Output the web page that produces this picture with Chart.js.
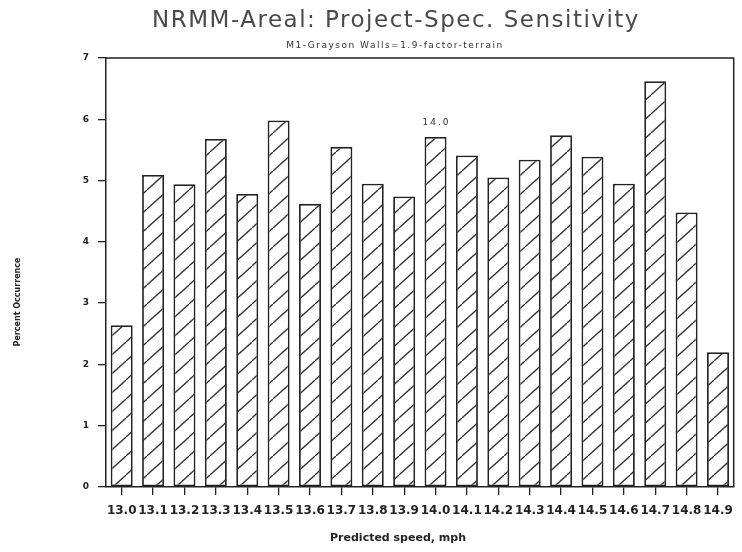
<!DOCTYPE html>
<html>
<head>
<meta charset="utf-8">
<script src="https://cdn.jsdelivr.net/npm/chart.js@4.4.1/dist/chart.umd.min.js"></script>
<style>
    html, body { margin: 0; padding: 0; background: #fff; }
    #wrap { width: 742px; height: 552px; }
</style>
</head>
<body>
<div id="wrap"><canvas id="speedChart"></canvas></div>
<script>
// data
const speedLabels = ['13.0', '13.1', '13.2', '13.3', '13.4', '13.5', '13.6', '13.7', '13.8', '13.9',
                     '14.0', '14.1', '14.2', '14.3', '14.4', '14.5', '14.6', '14.7', '14.8', '14.9'];
const percentValues = [2.64, 5.09, 4.94, 5.68, 4.78, 5.98, 4.62, 5.55, 4.95, 4.74,
                       5.71, 5.41, 5.05, 5.34, 5.74, 5.39, 4.95, 6.62, 4.48, 2.20];
const yTickValues = [0, 1, 2, 3, 4, 5, 6, 7];
const markedIndex = 10;

const titleText = 'NRMM-Areal: Project-Spec. Sensitivity';
const subtitleText = 'M1-Grayson Walls=1.9-factor-terrain';
const xTitleText = 'Predicted speed, mph';
const yTitleText = 'Percent Occurrence';

const ink = '#222';

// pola arsir miring
function makeHatch() {
    const w = 21, h = 19;
    const c = document.createElement('canvas');
    c.width = w;
    c.height = h;
    const g = c.getContext('2d');
    g.fillStyle = '#fff';
    g.fillRect(0, 0, w, h);
    g.strokeStyle = '#333';
    g.lineWidth = 1.3;
    for (let k = -1; k <= 1; k++) {
        g.beginPath();
        g.moveTo(k * w, h + k * h);
        g.lineTo(w + k * w, k * h);
        g.stroke();
    }
    return g.createPattern(c, 'repeat');
}

// judul, bingkai dan label sumbu
const decorPlugin = {
    id: 'decor',
    afterDraw(chart) {
        const ctx = chart.ctx;
        const a = chart.chartArea;
        const x = chart.scales.x;
        const y = chart.scales.y;

        ctx.save();

        // bingkai atas & kanan
        ctx.strokeStyle = ink;
        ctx.lineWidth = 1.5;
        ctx.beginPath();
        ctx.moveTo(a.left, a.top);
        ctx.lineTo(a.right, a.top);
        ctx.lineTo(a.right, a.bottom);
        ctx.stroke();

        ctx.textAlign = 'center';
        ctx.textBaseline = 'middle';

        ctx.fillStyle = '#4a4a4a';
        ctx.font = '23px "DejaVu Sans"';
        ctx.letterSpacing = '1.5px';
        ctx.fillText(titleText, 396, 21);

        ctx.fillStyle = '#333';
        ctx.font = '9px "DejaVu Sans"';
        ctx.letterSpacing = '1.5px';
        ctx.fillText(subtitleText, 395, 46);

        // label di atas batang 14.0
        ctx.font = '9px "DejaVu Sans"';
        ctx.letterSpacing = '2px';
        ctx.fillText(speedLabels[markedIndex], x.getPixelForValue(markedIndex) + 1,
            y.getPixelForValue(percentValues[markedIndex]) - 14);

        ctx.letterSpacing = '0px';
        ctx.fillStyle = ink;
        ctx.font = 'bold 11px "DejaVu Sans"';
        ctx.fillText(xTitleText, 398, 538);

        ctx.translate(18, 302);
        ctx.rotate(-Math.PI / 2);
        ctx.font = 'bold 8px "DejaVu Sans"';
        ctx.fillText(yTitleText, 0, 0);

        ctx.restore();
    }
};

const ctx = document.getElementById('speedChart');

new Chart(ctx, {

    type: 'bar',

    data: {
        labels: speedLabels,

        datasets: [{
            label: 'Percent Occurrence',
            data: percentValues,

            backgroundColor: makeHatch(),
            borderColor: ink,
            borderWidth: 1.8,
            borderSkipped: false,

            categoryPercentage: 1,
            barPercentage: 0.7
        }]
    },

    options: {

        responsive: true,
        maintainAspectRatio: false,
        animation: false,

        layout: {
            padding: {
                top: 58,
                right: 8,
                left: 0,
                bottom: 0
            }
        },

        plugins: {
            legend: { display: false },
            tooltip: { enabled: false }
        },

        scales: {

            x: {
                grid: {
                    offset: false,
                    drawOnChartArea: false,
                    drawTicks: true,
                    tickLength: 8,
                    color: ink,
                    lineWidth: 1.3
                },
                border: {
                    display: true,
                    color: ink,
                    width: 1.5
                },
                ticks: {
                    autoSkip: false,
                    maxRotation: 0,
                    minRotation: 0,
                    padding: 9,
                    color: ink,
                    font: {
                        family: 'DejaVu Sans',
                        size: 12,
                        weight: 'bold'
                    }
                },
                afterFit(scale) {
                    scale.height = 65;
                }
            },

            y: {
                min: yTickValues[0],
                max: yTickValues[yTickValues.length - 1],
                afterBuildTicks(scale) {
                    scale.ticks = yTickValues.map(v => ({ value: v }));
                },
                grid: {
                    drawOnChartArea: false,
                    drawTicks: true,
                    tickLength: 8,
                    color: ink,
                    lineWidth: 1.3
                },
                border: {
                    display: true,
                    color: ink,
                    width: 1.5
                },
                ticks: {
                    padding: 9,
                    color: ink,
                    font: {
                        family: 'DejaVu Sans',
                        size: 9,
                        weight: 'bold'
                    }
                },
                afterFit(scale) {
                    scale.width = 106;
                }
            }
        }
    },

    plugins: [decorPlugin]
});
</script>
</body>
</html>
